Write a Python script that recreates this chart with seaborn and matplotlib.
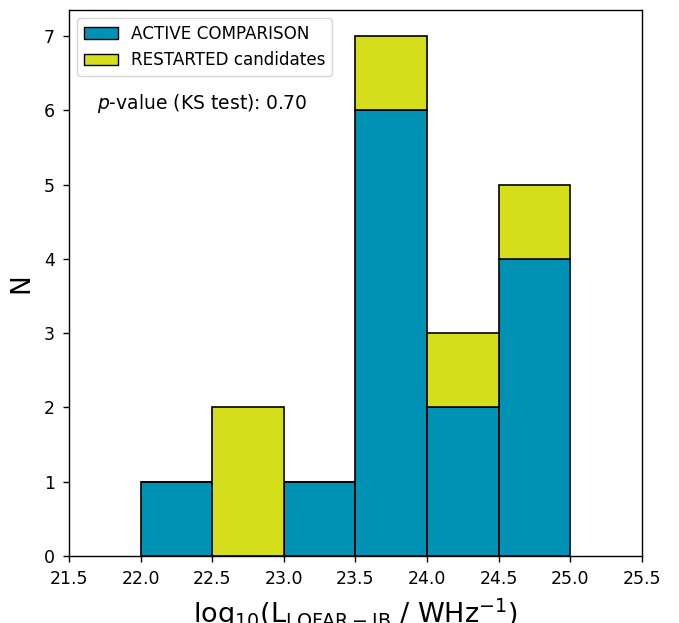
import matplotlib
matplotlib.use("Agg")
import matplotlib.pyplot as plt
import seaborn as sns
import pandas as pd
from matplotlib.patches import Patch

bin_edges = [22.0, 22.5, 23.0, 23.5, 24.0, 24.5, 25.0]
bin_centers = [22.25, 22.75, 23.25, 23.75, 24.25, 24.75]
active_counts = [1, 0, 1, 6, 2, 4]
restarted_counts = [0, 2, 0, 1, 1, 1]
labels = ["ACTIVE COMPARISON", "RESTARTED candidates"]
colors = ["#0092b5", "#d4de1a"]

df = pd.DataFrame({
    "x": bin_centers + bin_centers,
    "w": active_counts + restarted_counts,
    "group": [labels[0]] * len(bin_centers) + [labels[1]] * len(bin_centers),
})

sns.set_style("ticks", {"axes.edgecolor": "black", "text.color": "black",
                        "xtick.color": "black", "ytick.color": "black",
                        "axes.labelcolor": "black"})
plt.rcParams['font.family'] = ['DejaVu Sans']
fig = plt.figure(figsize=(6.79, 6.23), dpi=100)
ax = fig.add_axes([0.1016, 0.1075, 0.8439, 0.8765])

sns.histplot(data=df, x="x", weights="w", hue="group", hue_order=labels[::-1],
             multiple="stack", bins=bin_edges,
             palette={labels[0]: colors[0], labels[1]: colors[1]}, alpha=1,
             edgecolor="black", linewidth=1.2, ax=ax, legend=False)

ax.set_xlim(21.5, 25.5)
ax.set_xticks([21.5, 22.0, 22.5, 23.0, 23.5, 24.0, 24.5, 25.0, 25.5])
ax.set_xticklabels(["21.5", "22.0", "22.5", "23.0", "23.5", "24.0", "24.5", "25.0", "25.5"])
ax.tick_params(labelsize=12.5, length=4.5, width=1, pad=5.5, color="black")
ax.set_xlabel(r"log$_{10}$(L$_{\rm LOFAR-IB}$ / WHz$^{-1}$)", fontsize=19.5, labelpad=6)
ax.set_ylabel("N", fontsize=19, labelpad=7)
for s in ax.spines.values():
    s.set_visible(True)
    s.set_linewidth(1)
    s.set_color("black")

handles = [Patch(facecolor=colors[0], edgecolor="black"), Patch(facecolor=colors[1], edgecolor="black")]
ax.legend(handles, labels, loc="upper left", fontsize=12.1)
ax.text(0.049, 0.828, r"$p$-value (KS test): 0.70", transform=ax.transAxes,
        fontsize=13.5, va="center")

fig.savefig("out.png", dpi=100)
